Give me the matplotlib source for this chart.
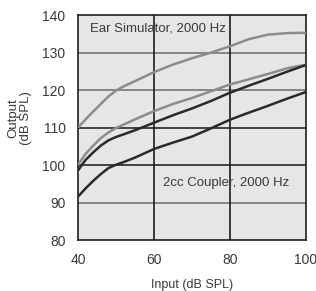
import matplotlib
matplotlib.use("Agg")
import matplotlib.pyplot as plt

x_in = [40, 42, 44, 46, 48, 50, 52, 55, 60, 65, 70, 75, 80, 85, 90, 95, 100]
ear_high = [110, 112.2, 114.3, 116.3, 118.3, 119.9, 121.0, 122.4, 124.8, 126.8,
            128.5, 130.0, 131.7, 133.6, 134.8, 135.2, 135.3]
ear_low = [100.1, 103.0, 105.2, 107.2, 108.7, 109.9, 110.8, 112.2, 114.4, 116.3,
           117.9, 119.7, 121.5, 122.9, 124.3, 125.8, 126.8]
cpl_high = [98.6, 101.4, 103.4, 105.2, 106.6, 107.5, 108.2, 109.3, 111.3, 113.3,
            115.1, 117.1, 119.3, 121.2, 123.0, 124.9, 126.7]
cpl_low = [91.6, 93.8, 95.8, 97.6, 99.2, 100.1, 100.8, 102.0, 104.3, 106.0,
           107.6, 109.8, 112.1, 114.0, 115.8, 117.7, 119.5]

xticks = [40, 60, 80, 100]
yticks = [80, 90, 100, 110, 120, 130, 140]
dark_h = [100, 110]
grey_h = [90, 120, 130]

plt.rcParams['font.family'] = ['Liberation Sans', 'DejaVu Sans']
fig = plt.figure(figsize=(3.16, 2.91), dpi=100)
ax = fig.add_axes([0.247, 0.175, 0.721, 0.773])
ax.set_facecolor('#e6e6e7')
ax.set_xlim(40, 100)
ax.set_ylim(80, 140)

for v in grey_h:
    ax.axhline(v, color='#767676', lw=1.2, zorder=1)
for v in dark_h:
    ax.axhline(v, color='#262626', lw=1.2, zorder=1)
for v in [60, 80]:
    ax.axvline(v, color='#1e1e1e', lw=1.2, zorder=1)

kw = dict(lw=1.8, solid_capstyle='butt', solid_joinstyle='round')
ax.plot(x_in, ear_high, color='#8c8c8c', zorder=3, **kw)
ax.plot(x_in, ear_low, color='#8c8c8c', zorder=3, **kw)
ax.plot(x_in, cpl_high, color='#2a2a2a', zorder=4, **kw)
ax.plot(x_in, cpl_low, color='#2a2a2a', zorder=4, **kw)

for s in ax.spines.values():
    s.set_color('#1e1e1e')
    s.set_linewidth(1.2)

ax.set_xticks(xticks)
ax.set_yticks(yticks)
ax.tick_params(length=0, labelsize=10, labelcolor='#3a3a3a', pad=9)

ax.text(43.2, 136.4, 'Ear Simulator, 2000 Hz', fontsize=9.5, color='#3a3a3a', va='center', ha='left', zorder=5)
ax.text(62.3, 95.3, '2cc Coupler, 2000 Hz', fontsize=9.5, color='#3a3a3a', va='center', ha='left', zorder=5)

ax.set_xlabel('Input (dB SPL)', fontsize=9, color='#3a3a3a', labelpad=9)
ax.set_ylabel('Output\n(dB SPL)', fontsize=9.5, color='#3a3a3a', linespacing=1.15)
ax.yaxis.set_label_coords(-0.2, 0.542)

fig.savefig('out.png', dpi=100)
